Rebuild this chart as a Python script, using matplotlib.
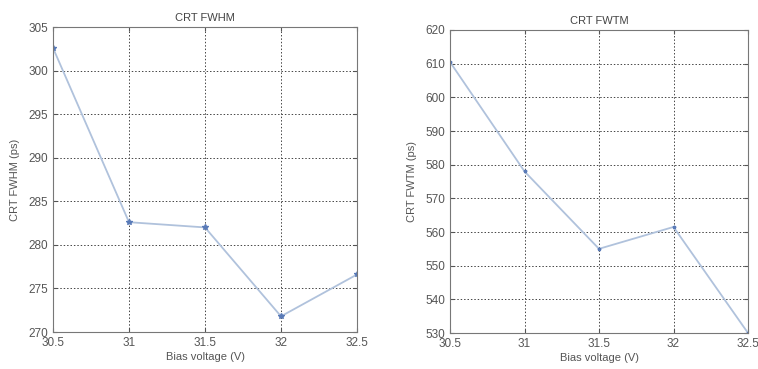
import matplotlib
matplotlib.use("Agg")
import matplotlib.pyplot as plt

plt.rcParams['font.family'] = ['Liberation Sans', 'DejaVu Sans']

bias = [30.5, 31, 31.5, 32, 32.5]
xticks = [30.5, 31, 31.5, 32, 32.5]
xlabels = ['30.5', '31', '31.5', '32', '32.5']
fwhm = [302.6, 282.6, 282.0, 271.8, 276.6]
fwtm = [610.5, 578.0, 555.0, 561.5, 530.0]

fig = plt.figure(figsize=(7.58, 3.69), dpi=100)
ax1 = fig.add_axes([53/758, 1 - 332/369, 304/758, 305/369])
ax2 = fig.add_axes([450/758, 1 - 333/369, 298/758, 303/369])

line_col = '#b0c2dc'
mark_col = '#5a7bb8'

def draw(ax, y, ylim, yticks, title, ylabel, ms):
    ax.plot(bias, y, color=line_col, lw=1.3, marker='*', ms=ms,
            mfc=mark_col, mec=mark_col)
    ax.set_xlim(30.5, 32.5)
    ax.set_ylim(*ylim)
    ax.set_xticks(xticks)
    ax.set_xticklabels(xlabels)
    ax.set_yticks(yticks)
    ax.grid(True, color='#444444', ls=(0, (1.5, 2)), lw=0.7)
    ax.tick_params(labelsize=8.5, colors='#555555', direction='in', length=3,
                   top=True, right=True)
    for s in ax.spines.values():
        s.set_color('#777777')
        s.set_linewidth(0.8)
    ax.set_title(title, fontsize=8, color='#444444', pad=4)
    ax.set_xlabel('Bias voltage (V)', fontsize=8, color='#555555', labelpad=2)
    ax.set_ylabel(ylabel, fontsize=8, color='#555555', labelpad=6)

draw(ax1, fwhm, (270, 305), range(270, 306, 5), 'CRT FWHM', 'CRT FWHM (ps)', 4)
draw(ax2, fwtm, (530, 620), range(530, 621, 10), 'CRT FWTM', 'CRT FWTM (ps)', 2.5)

fig.savefig('out.png', dpi=100)
